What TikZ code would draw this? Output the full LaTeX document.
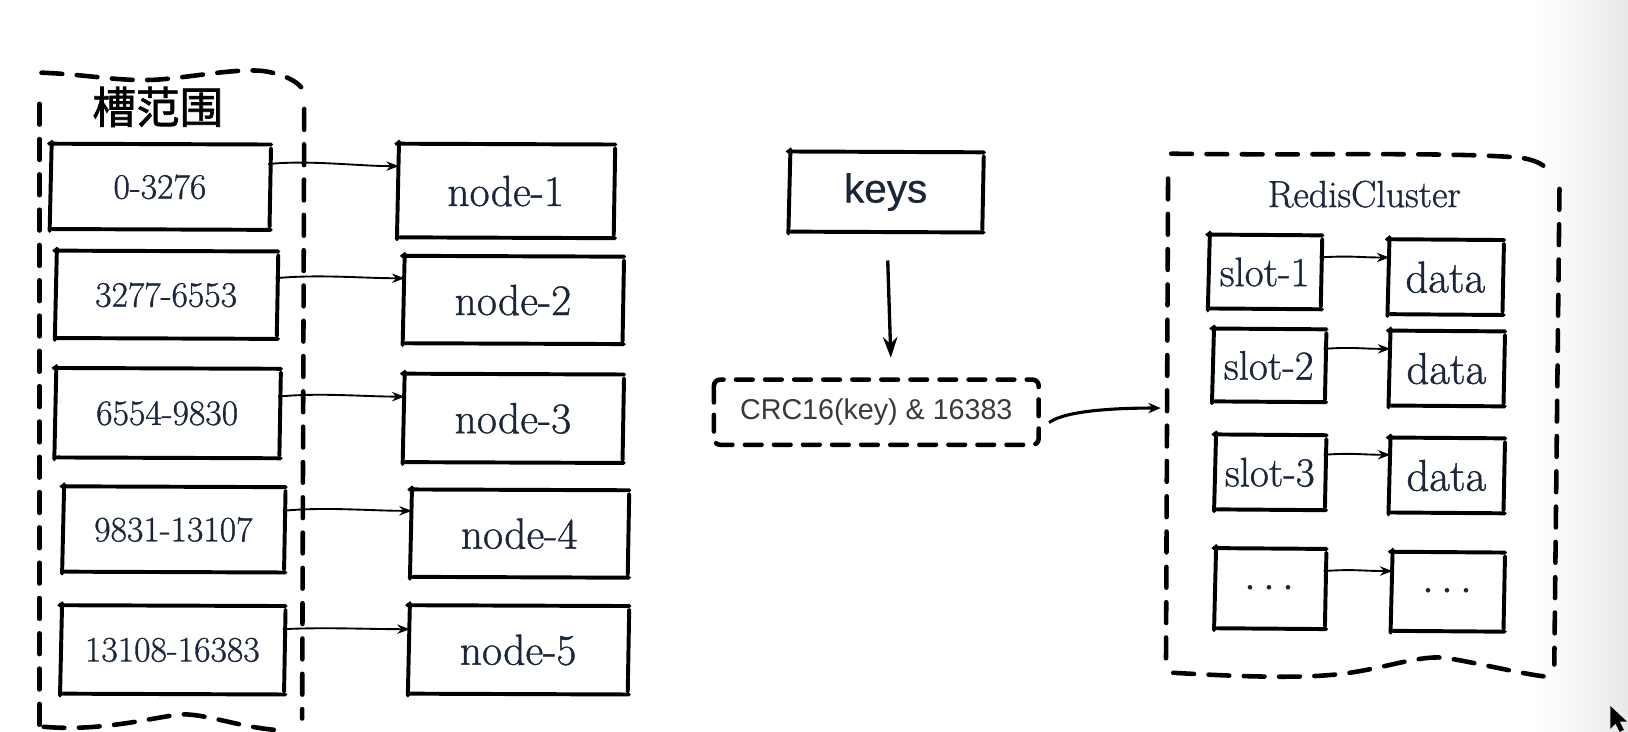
\documentclass[tikz,border=0pt]{standalone}
\usepackage{fontspec}
\usetikzlibrary{arrows.meta,calc}
\newfontfamily\cjk{Noto Sans CJK SC}[FakeBold=1.5]
\newfontfamily\sans{Liberation Sans}
\newfontfamily\sansh{Liberation Sans}[FakeBold=0.6]
\newfontfamily\serifh{Latin Modern Roman}[FakeBold=0.9]
\definecolor{ink}{HTML}{1A263B}
\definecolor{crcgray}{HTML}{3A3A3A}
\tikzset{
  skl/.style={line width=1.9pt, line cap=round, draw=black},
  sz/.style 2 args={minimum width={#1*0.5pt}, minimum height={#2*0.5pt}},
  box/.style={inner sep=0pt, text=ink,
    append after command={
      ([shift={(-1.2pt,0.6pt)}]\tikzlastnode.north west) edge[skl] ([shift={(1.4pt,0.2pt)}]\tikzlastnode.north east)
      ([shift={(1.3pt,-1.6pt)}]\tikzlastnode.north east) edge[skl] ([shift={(0.6pt,0.9pt)}]\tikzlastnode.south east)
      ([shift={(1.2pt,-0.5pt)}]\tikzlastnode.south east) edge[skl] ([shift={(0.4pt,-0.1pt)}]\tikzlastnode.south west)
      ([shift={(-0.9pt,-1.0pt)}]\tikzlastnode.south west) edge[skl] ([shift={(0.1pt,1.6pt)}]\tikzlastnode.north west)
    }},
  rangebox/.style={box, font=\serifh\fontsize{17.2}{19}\selectfont},
  nodebox/.style={box, font=\serifh\fontsize{21}{23}\selectfont},
  slotbox/.style={box, font=\serifh\fontsize{19.8}{21}\selectfont},
  databox/.style={box, font=\serifh\fontsize{21.5}{23}\selectfont},
  dashframe/.style={line width=2.2pt, line cap=round, dash pattern=on 10pt off 7pt, draw=black},
  arr/.style={line width=0.9pt, draw=black, -{Stealth[length=6pt,width=4.5pt]}},
  bigarr/.style={line width=1.6pt, draw=black, -{Stealth[length=10pt,width=7pt]}},
}
\begin{document}
\begin{tikzpicture}[x=0.5pt,y=-0.5pt]
\useasboundingbox (0,0) rectangle (1568,705);
\fill[white] (0,0) rectangle (1568,705);
\shade[left color=white, right color=black!9] (1480,0) rectangle (1568,705);

% left container
\draw[dashframe] (40,70) .. controls (90,72) and (120,80) .. (160,76)
   .. controls (200,72) and (240,64) .. (262,70) .. controls (275,73) and (285,78) .. (290,84);
\draw[dashframe] (38,100) -- (38,700);
\draw[dashframe] (293,105) -- (291,692);
\draw[dashframe] (42,700) .. controls (100,705) and (150,690) .. (176,688)
   .. controls (200,688) and (230,700) .. (265,703);
\node[text=black, font=\cjk\fontsize{21}{24}\selectfont] (title) at (152,103) {槽范围};

% range boxes
\node[rangebox, sz={208}{80}] (r1) at (154,180) {0-3276};
\node[rangebox, sz={210}{82}] (r2) at (160,284) {3277-6553};
\node[rangebox, sz={213}{84}] (r3) at (161,398) {6554-9830};
\node[rangebox, sz={210}{80}] (r4) at (167,510) {9831-13107};
\node[rangebox, sz={212}{83}] (r5) at (166,626) {13108-16383};

% node boxes
\node[nodebox, sz={205}{88}] (n1) at (487,184) {node-1};
\node[nodebox, sz={208}{82}] (n2) at (494,289) {node-2};
\node[nodebox, sz={208}{83}] (n3) at (494,403) {node-3};
\node[nodebox, sz={206}{82}] (n4) at (500,514) {node-4};
\node[nodebox, sz={208}{83}] (n5) at (499,626) {node-5};

\draw[arr] ([yshift=11pt]r1.east) .. controls +(20pt,2pt) and +(-20pt,0pt) .. ([yshift=12pt]n1.west);
\draw[arr] ([yshift=8pt]r2.east) .. controls +(20pt,2pt) and +(-20pt,0pt) .. ([yshift=10.5pt]n2.west);
\draw[arr] ([yshift=8pt]r3.east) .. controls +(20pt,2pt) and +(-20pt,0pt) .. ([yshift=10.5pt]n3.west);
\draw[arr] ([yshift=9pt]r4.east) .. controls +(20pt,2pt) and +(-20pt,0pt) .. ([yshift=11pt]n4.west);
\draw[arr] ([yshift=10pt]r5.east) .. controls +(20pt,1pt) and +(-20pt,0pt) .. ([yshift=10pt]n5.west);

% keys and CRC
\node[box, sz={183}{75}, font=\sansh\fontsize{19.5}{22}\selectfont] (keys) at (853,185) {keys};
\node[inner sep=0pt, sz={312}{62}, text=crcgray, font=\sans\fontsize{13.8}{16}\selectfont] (crc) at (844,397) {CRC16(key) \& 16383};
\draw[dashframe, dash pattern=on 8pt off 6pt, rounded corners=3pt] (crc.north west) rectangle (crc.south east);
\draw[bigarr] ([shift={(1pt,-14pt)}]keys.south) -- ([shift={(7pt,10.5pt)}]crc.north);

% RedisCluster container
\draw[dashframe] (1128,148) .. controls (1250,150) and (1400,146) .. (1465,152) .. controls (1478,154) and (1486,158) .. (1490,163);
\draw[dashframe] (1125,172) -- (1123,640);
\draw[dashframe] (1502,182) -- (1497,640);
\draw[dashframe] (1130,648) .. controls (1200,652) and (1260,654) .. (1300,648)
   .. controls (1340,642) and (1370,630) .. (1395,634) .. controls (1430,640) and (1470,650) .. (1492,652);
\node[text=ink, font=\serifh\fontsize{18.2}{20}\selectfont] (rc) at (1314,187) {RedisCluster};
\coordinate (rcin) at (1118,393);
\draw[line width=1.5pt, -{Stealth[length=6pt,width=5pt]}] ([shift={(5pt,-5pt)}]crc.east) .. controls +(8pt,6pt) and +(-20pt,0pt) .. (rcin);

% slots
\node[slotbox, sz={105}{69}] (s1) at (1218,262) {slot-1};
\node[databox, sz={107}{70}] (d1) at (1392,267) {data};
\node[slotbox, sz={105}{68}] (s2) at (1222,352) {slot-2};
\node[databox, sz={107}{70}] (d2) at (1393,355) {data};
\node[slotbox, sz={103}{70}] (s3) at (1223,455) {slot-3};
\node[databox, sz={107}{70}] (d3) at (1393,458) {data};
\node[slotbox, sz={103}{75}] (s4) at (1223,567) {$\cdots$};
\node[databox, sz={105}{74}] (d4) at (1394,570) {$\cdots$};

\draw[arr] ([yshift=7pt]s1.east) .. controls +(15pt,1pt) and +(-15pt,0pt) .. ([yshift=9.5pt]d1.west);
\draw[arr] ([yshift=8pt]s2.east) .. controls +(15pt,1pt) and +(-15pt,0pt) .. ([yshift=9.5pt]d2.west);
\draw[arr] ([yshift=8.5pt]s3.east) .. controls +(15pt,1pt) and +(-15pt,0pt) .. ([yshift=10pt]d3.west);
\draw[arr] ([yshift=8.5pt]s4.east) .. controls +(15pt,1pt) and +(-15pt,0pt) .. ([yshift=10pt]d4.west);

% mouse cursor
\fill[black] (1551,680) -- (1551,702) -- (1556,697) -- (1560,705) -- (1564,703) -- (1560,695) -- (1567,695) -- cycle;
\end{tikzpicture}
\end{document}
